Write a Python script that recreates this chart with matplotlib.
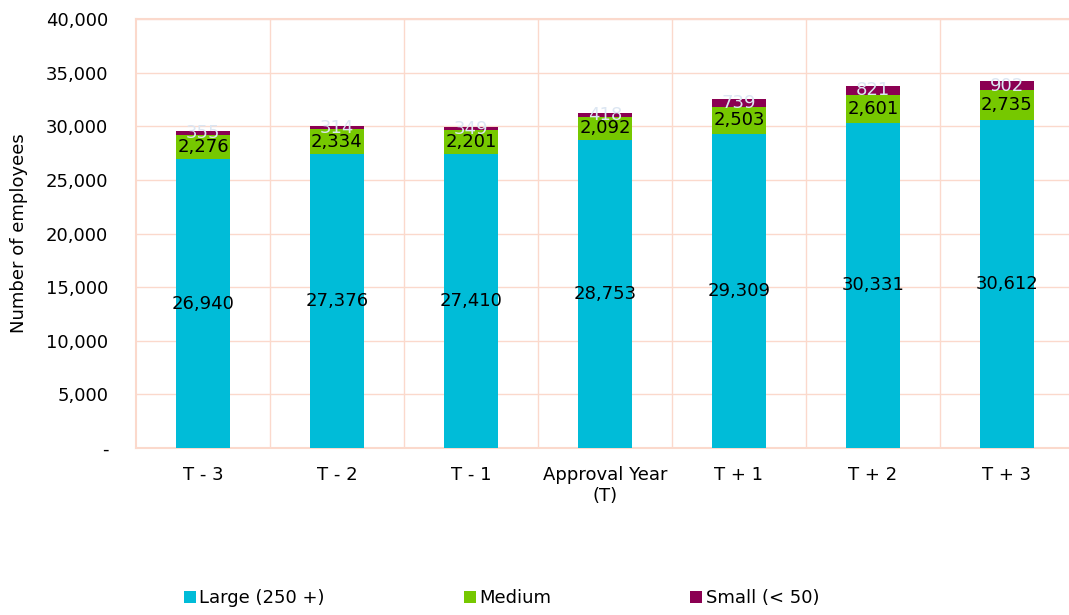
import matplotlib
matplotlib.use("Agg")
import matplotlib.pyplot as plt
from matplotlib.ticker import FuncFormatter, FixedLocator

categories = ["T - 3", "T - 2", "T - 1", "Approval Year\n(T)", "T + 1", "T + 2", "T + 3"]
large = [26940, 27376, 27410, 28753, 29309, 30331, 30612]
medium = [2276, 2334, 2201, 2092, 2503, 2601, 2735]
small = [355, 314, 349, 418, 739, 821, 902]
series_names = ["Large (250 +)", "Medium", "Small (< 50)"]

c_large = "#00bcd8"
c_medium = "#76c800"
c_small = "#8b0052"
grid_c = "#fbd9cc"

plt.rcParams['font.family'] = ['DejaVu Sans']
fig = plt.figure(figsize=(10.69, 6.15), dpi=100)
ax = fig.add_axes([136/1069, 1-448/615, (1074-136)/1069, (448-19)/615])

x = list(range(len(categories)))
w = 0.4
b1 = ax.bar(x, large, w, color=c_large, label=series_names[0], zorder=3)
bottom2 = large
b2 = ax.bar(x, medium, w, bottom=bottom2, color=c_medium, label=series_names[1], zorder=3)
bottom3 = [a + b for a, b in zip(large, medium)]
b3 = ax.bar(x, small, w, bottom=bottom3, color=c_small, label=series_names[2], zorder=3)

fs = 13
ax.bar_label(b1, labels=[f"{v:,}" for v in large], label_type='center', fontsize=fs, color='black', zorder=5)
ax.bar_label(b2, labels=[f"{v:,}" for v in medium], label_type='center', fontsize=fs, color='black', zorder=5)
ax.bar_label(b3, labels=[f"{v:,}" for v in small], label_type='center', fontsize=fs, color='#dce6f2', zorder=5)

ax.set_xlim(-0.5, len(categories) - 0.5)
ax.set_ylim(0, 40000)
ax.set_yticks(range(0, 40001, 5000))
ax.yaxis.set_major_formatter(FuncFormatter(lambda v, p: "-" if v == 0 else f"{int(v):,}"))
ax.set_xticks(x)
ax.set_xticklabels(categories, fontsize=fs)
ax.tick_params(axis='y', labelsize=fs, length=0, pad=20)
ax.tick_params(axis='x', length=0, pad=13)
ax.xaxis.set_minor_locator(FixedLocator([i + 0.5 for i in range(len(categories) - 1)]))
ax.tick_params(axis='x', which='minor', length=0)
ax.grid(axis='y', which='major', color=grid_c, linewidth=1, zorder=0)
ax.grid(axis='x', which='minor', color=grid_c, linewidth=1, zorder=0)
for s in ax.spines.values():
    s.set_color(grid_c)
    s.set_linewidth(1.5)

ax.set_ylabel("Number of employees", fontsize=fs)
ax.yaxis.set_label_coords(-(136 - 28) / 938, 0.5)

fig.legend(loc='center left', bbox_to_anchor=(184/1069, 1-598/615), ncol=3, frameon=False,
           fontsize=fs, handlelength=0.65, handleheight=0.65, handletextpad=0.2,
           columnspacing=7.7, borderpad=0, borderaxespad=0)

fig.savefig("out.png", dpi=100)
